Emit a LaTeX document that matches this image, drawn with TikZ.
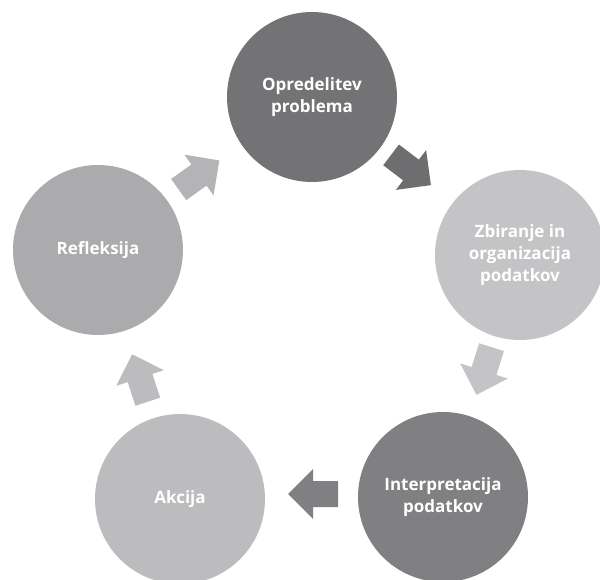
\documentclass[tikz,border=0pt]{standalone}
\usepackage{fontspec}
\setmainfont{Open Sans}
\definecolor{cdark}{HTML}{737375}
\definecolor{cright}{HTML}{C4C4C6}
\definecolor{cbr}{HTML}{808082}
\definecolor{cbl}{HTML}{BCBCBE}
\definecolor{cleft}{HTML}{ABABAD}
\definecolor{adark}{HTML}{6E6E70}
\definecolor{aleft}{HTML}{B4B4B6}
\tikzset{
  stage/.style={circle, minimum size=170pt, inner sep=0pt, text=white,
    font=\fontsize{17}{22}\selectfont\bfseries, align=center},
  blockarrow/.pic={\fill (-25,-13) -- (0,-13) -- (0,-25) -- (25,0) -- (0,25) -- (0,13) -- (-25,13) -- cycle;}
}
\begin{document}
\begin{tikzpicture}[x=1pt,y=-1pt]
\useasboundingbox (0,0) rectangle (600,580);
\clip (0,0) rectangle (600,580);
\fill[white] (0,0) rectangle (600,580);
\node[stage, fill=cdark] (p1) at (312,97) {Opredelitev\\problema};
\node[stage, fill=cright] (p2) at (520,255) {Zbiranje in\\organizacija\\podatkov};
\node[stage, fill=cbr] (p3) at (443,497) {Interpretacija\\podatkov};
\node[stage, fill=cbl] (p4) at (180,499) {Akcija};
\node[stage, fill=cleft] (p5) at (98,250) {Refleksija};
\coordinate (a1) at (411,170);
\coordinate (a2) at (484,371);
\coordinate (a3) at (313,494);
\coordinate (a4) at (140,378);
\coordinate (a5) at (199,175);
\pic[fill=adark, x=1pt, y=1pt, rotate=-37.2] at (a1) {blockarrow};
\pic[fill=cright, x=1pt, y=1pt, rotate=-107.6] at (a2) {blockarrow};
\pic[fill=cbr, x=1pt, y=1pt, rotate=180] at (a3) {blockarrow};
\pic[fill=cbl, x=1pt, y=1pt, rotate=108.2] at (a4) {blockarrow};
\pic[fill=aleft, x=1pt, y=1pt, rotate=35.6] at (a5) {blockarrow};
\end{tikzpicture}
\end{document}
